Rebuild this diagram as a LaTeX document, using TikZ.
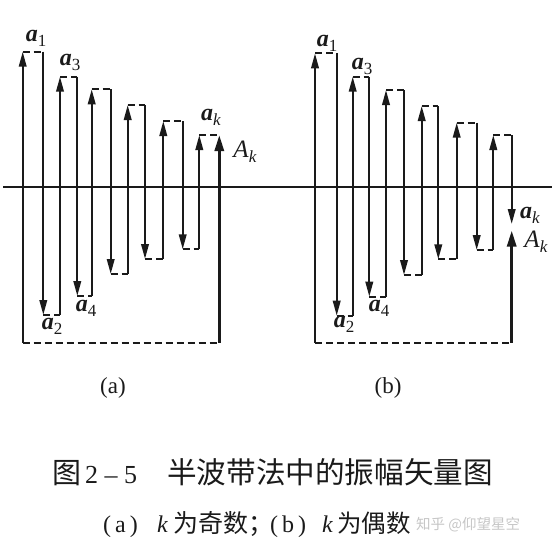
\documentclass[tikz,border=0pt]{standalone}
\usepackage{fontspec}
\setmainfont{Liberation Serif}
\newfontfamily\cjk{Noto Sans CJK SC}
\usetikzlibrary{arrows.meta}
\definecolor{ink}{HTML}{1A1A1A}
\newcommand{\vlab}[2]{\fontsize{24}{24}\selectfont\textbf{\textit{#1}}\raisebox{-5pt}{\fontsize{17}{17}\selectfont #2}}
\newcommand{\Alab}{\fontsize{25}{25}\selectfont\textit{A}\raisebox{-5pt}{\fontsize{17}{17}\selectfont\textit{k}}}
\begin{document}
\begin{tikzpicture}[x=1pt,y=-1pt,
  vec/.style={ink,line width=2.1pt,-{Triangle[length=15pt,width=7.5pt]}},
  bigvec/.style={ink,line width=3pt,-{Triangle[length=16pt,width=9pt]}},
  dashln/.style={ink,line width=1.7pt,dash pattern=on 7pt off 4pt},
  axisln/.style={ink,line width=2pt},
  lab/.style={inner sep=0pt,anchor=center,text=ink},
  captxt/.style={inner sep=0pt,anchor=base west,text=ink}]
\useasboundingbox (0,0) rectangle (559,550);
% axis
\coordinate (axL) at (3.3,186.5);
\coordinate (axR) at (551.7,186.5);
\draw[axisln] (axL) -- (axR);
% ---------- panel (a) ----------
\foreach \i/\x/\ys/\ye in {1/22.7/342.7/51.7, 2/43.3/51.7/315, 3/60/315/76.7,
  4/77.3/76.7/296, 5/91.7/296/89.3, 6/110.7/89.3/274, 7/127.7/274/105,
  8/145/105/259, 9/163.3/259/121, 10/182.7/121/249.3, 11/199.3/249.3/135}{
  \coordinate (as\i) at (\x,\ys);
  \coordinate (ae\i) at (\x,\ye);
  \draw[vec] (as\i) -- (ae\i);
}
\foreach \i [evaluate=\i as \j using int(\i+1)] in {1,...,10}{
  \draw[dashln] (ae\i) -- (as\j);
}
\coordinate (aAs) at (219.3,342.7);
\coordinate (aAe) at (219.3,135);
\draw[dashln] (ae11) -- (aAe);
\draw[dashln] (as1) -- (aAs);
\draw[bigvec] (aAs) -- (aAe);
\node[lab] (la1) at (36,38) {\vlab{a}{1}};
\node[lab] (la3) at (70,62) {\vlab{a}{3}};
\node[lab] (la2) at (52,326) {\vlab{a}{2}};
\node[lab] (la4) at (86,308) {\vlab{a}{4}};
\node[lab] (lak) at (211,117) {\vlab{a}{\textit{k}}};
\node[lab] (lAk) at (245,152) {\Alab};
% ---------- panel (b) ----------
\foreach \i/\x/\ys/\ye in {1/315/342.7/53.3, 2/336.7/53.3/315.7, 3/352.7/315.7/76.7,
  4/369.3/76.7/296.7, 5/386/296.7/90, 6/404/90/275, 7/421.7/275/106,
  8/438.3/106/259.3, 9/456.7/259.3/122.7, 10/476.7/122.7/250, 11/493.3/250/135,
  12/511.7/135/224}{
  \coordinate (bs\i) at (\x,\ys);
  \coordinate (be\i) at (\x,\ye);
  \draw[vec] (bs\i) -- (be\i);
}
\foreach \i [evaluate=\i as \j using int(\i+1)] in {1,...,11}{
  \draw[dashln] (be\i) -- (bs\j);
}
\coordinate (bAs) at (511.7,342.7);
\coordinate (bAe) at (511.7,230.5);
\draw[dashln] (bs1) -- (bAs);
\draw[bigvec] (bAs) -- (bAe);
\node[lab] (lb1) at (327,43) {\vlab{a}{1}};
\node[lab] (lb3) at (362,66) {\vlab{a}{3}};
\node[lab] (lb2) at (344,324) {\vlab{a}{2}};
\node[lab] (lb4) at (379,308) {\vlab{a}{4}};
\node[lab] (lbk) at (530,215) {\vlab{a}{\textit{k}}};
\node[lab] (lBk) at (536,242) {\Alab};
% ---------- captions ----------
\node[captxt,anchor=base] (capa) at (113,393.5) {\fontsize{23}{23}\selectfont (a)};
\node[captxt,anchor=base] (capb) at (388,393.5) {\fontsize{23}{23}\selectfont (b)};
\node[captxt] (t1) at (52,483) {\cjk\fontsize{29}{29}\selectfont 图};
\node[captxt] (t2) at (85,483) {\fontsize{26}{26}\selectfont 2 – 5};
\node[captxt] (t3) at (167,483) {\cjk\fontsize{29.6}{30}\selectfont 半波带法中的振幅矢量图};
\node[captxt] (s1) at (103,532) {\fontsize{24}{24}\selectfont (\hspace{4pt}a\hspace{4pt})};
\node[captxt] (s2) at (157,532) {\fontsize{24}{24}\selectfont\textit{k}};
\node[captxt] (s3) at (173,532) {\cjk\fontsize{25}{25}\selectfont 为奇数；};
\node[captxt] (s4) at (270,532) {\fontsize{24}{24}\selectfont (\hspace{4pt}b\hspace{4pt})};
\node[captxt] (s5) at (322,532) {\fontsize{24}{24}\selectfont\textit{k}};
\node[captxt] (s6) at (337,532) {\cjk\fontsize{24.5}{25}\selectfont 为偶数};
\node[captxt,text=gray!45] (wm) at (416,529) {\cjk\fontsize{14.5}{15}\selectfont 知乎 @仰望星空};
\end{tikzpicture}
\end{document}
